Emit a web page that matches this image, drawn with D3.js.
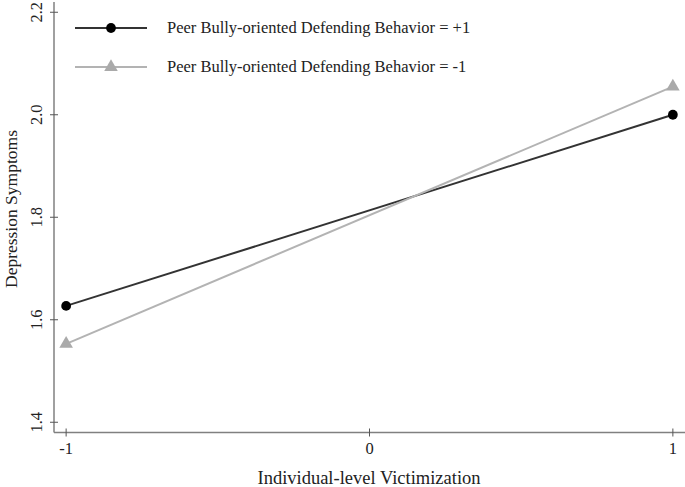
<!DOCTYPE html>
<html><head><meta charset="utf-8">
<script src="https://cdn.jsdelivr.net/npm/d3@7"></script>
<style>body{margin:0;background:#fff}svg{display:block}</style>
</head><body>
<svg id="c" width="685" height="487"></svg>
<script>
const xValues = [-1, 1];
const seriesNames = ["Peer Bully-oriented Defending Behavior = +1", "Peer Bully-oriented Defending Behavior = -1"];
const seriesHigh = [1.627, 2.0];
const seriesLow = [1.553, 2.055];
const xTicks = [-1, 0, 1];
const yTicks = [1.4, 1.6, 1.8, 2.0, 2.2];

const svg = d3.select("#c");
const font = "'Liberation Serif','Times New Roman',serif";
const x = d3.scaleLinear().domain([-1.04, 1.04]).range([54, 685]);
const y = d3.scaleLinear().domain([1.38, 2.22]).range([432.5, 2]);
const axisColor = "#808080";

svg.append("line").attr("x1", 54).attr("x2", 54).attr("y1", y(2.22)).attr("y2", y(1.38)).attr("stroke", axisColor).attr("stroke-width", 1.5);
svg.append("line").attr("x1", 54).attr("x2", 685).attr("y1", y(1.38)).attr("y2", y(1.38)).attr("stroke", axisColor).attr("stroke-width", 1.5);

yTicks.forEach(t => {
  svg.append("line").attr("x1", 50).attr("x2", 58).attr("y1", y(t)).attr("y2", y(t)).attr("stroke", "#555").attr("stroke-width", 1);
  svg.append("text").attr("transform", `translate(42,${y(t)}) rotate(-90)`).attr("text-anchor", "middle")
    .attr("font-family", font).attr("font-size", 16.5).attr("fill", "#222").text(t.toFixed(1));
});
xTicks.forEach(t => {
  svg.append("line").attr("x1", x(t)).attr("x2", x(t)).attr("y1", y(1.38) - 4).attr("y2", y(1.38) + 4).attr("stroke", "#555").attr("stroke-width", 1);
  svg.append("text").attr("x", x(t)).attr("y", 454).attr("text-anchor", "middle")
    .attr("font-family", font).attr("font-size", 16.5).attr("fill", "#222").text(t);
});

svg.append("text").attr("x", 369).attr("y", 484).attr("text-anchor", "middle").attr("font-family", font).attr("font-size", 18.5).attr("fill", "#222").text("Individual-level Victimization");
svg.append("text").attr("transform", `translate(17,209) rotate(-90)`).attr("text-anchor", "middle").attr("font-family", font).attr("font-size", 17.5).attr("fill", "#222").text("Depression Symptoms");

const line = d3.line().x((d, i) => x(xValues[i])).y(d => y(d));
const series = [
  {name: seriesNames[0], vals: seriesHigh, color: "#333", marker: "circle", mcolor: "#000"},
  {name: seriesNames[1], vals: seriesLow, color: "#b3b3b3", marker: "triangle", mcolor: "#aaa"}
];
const sym = {circle: d3.symbol().type(d3.symbolCircle).size(75), triangle: d3.symbol().type(d3.symbolTriangle).size(80)};

series.forEach((s, k) => {
  svg.append("path").attr("d", line(s.vals)).attr("fill", "none").attr("stroke", s.color).attr("stroke-width", 2);
  s.vals.forEach((v, i) => {
    svg.append("path").attr("d", sym[s.marker]()).attr("transform", `translate(${x(xValues[i])},${y(v)})`).attr("fill", s.mcolor);
  });
  const ly = 28 + k * 39;
  svg.append("line").attr("x1", 75).attr("x2", 147).attr("y1", ly).attr("y2", ly).attr("stroke", s.color).attr("stroke-width", 2);
  svg.append("path").attr("d", sym[s.marker]()).attr("transform", `translate(111,${ly})`).attr("fill", s.mcolor);
  svg.append("text").attr("x", 167).attr("y", ly + 5).attr("font-family", font).attr("font-size", 16.5).attr("fill", "#222").text(s.name);
});
</script>
</body></html>
